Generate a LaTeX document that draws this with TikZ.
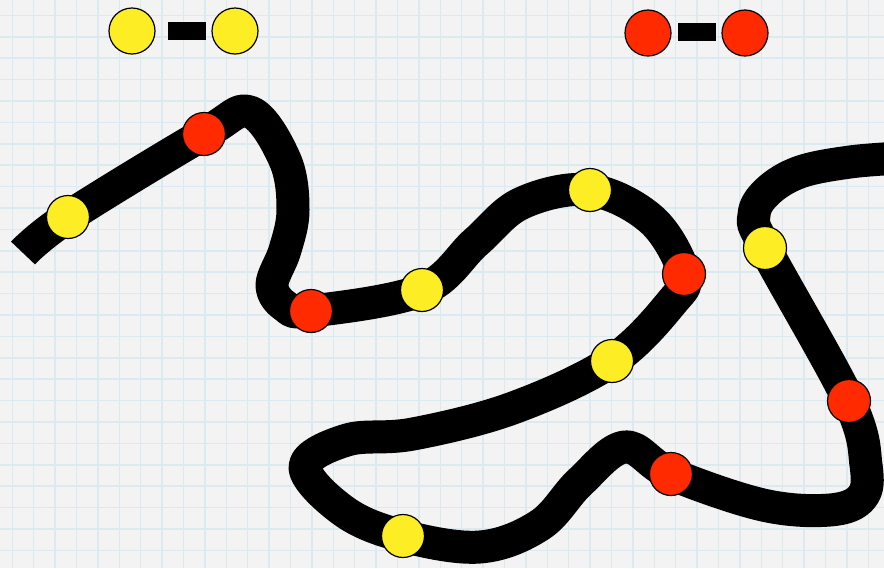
\documentclass[tikz,border=0pt]{standalone}
\usepackage{tikz}

\definecolor{paper}{RGB}{243,243,243}
\definecolor{gridblue}{RGB}{219,234,241}
\definecolor{beadyellow}{RGB}{252,237,36}
\definecolor{beadred}{RGB}{255,42,0}

\tikzset{
  bead/.style={circle,draw=black,line width=1.2pt,inner sep=0pt,minimum size=43pt},
  yellowbead/.style={bead,fill=beadyellow},
  redbead/.style={bead,fill=beadred},
  keybead/.style={minimum size=46pt},
  keybar/.style={rectangle,fill=black,inner sep=0pt,minimum width=38pt,minimum height=18pt},
  strand/.style={line width=33pt,line join=round,black}
}

\begin{document}
\begin{tikzpicture}[x=1pt,y=-1pt]
\useasboundingbox (0,0) rectangle (884,568);
\clip (0,0) rectangle (884,568);
% paper with grid
\fill[paper] (0,0) rectangle (884,568);
\foreach \i in {0,...,41}
  \draw[gridblue,line width=1.5pt] (12.3+21.4*\i,0) -- (12.3+21.4*\i,568);
\foreach \j in {0,...,26}
  \draw[gridblue,line width=1.5pt] (0,15.4+21.4*\j) -- (884,15.4+21.4*\j);
% bead positions
\coordinate (y1) at (68,217);
\coordinate (r1) at (204,134);
\coordinate (r2) at (311,311);
\coordinate (y2) at (422,290);
\coordinate (y3) at (590,190);
\coordinate (r3) at (684,274);
\coordinate (y4) at (612,361);
\coordinate (y5) at (403,536);
\coordinate (r4) at (671,474);
\coordinate (r5) at (849,401);
\coordinate (y6) at (765,248);
% the strand
\draw[strand] plot[smooth,tension=0.6] coordinates {
  (23,253) (y1) (r1) (250,112) (285,160) (293,210) (285,250) (272,285)
  (285,306) (r2) (y2) (476,242) (522,203) (y3) (652,220) (r3) (672,302)
  (y4) (513,408) (413,434) (347,440) (305,467) (345,512) (y5) (480,547)
  (540,525) (580,482) (625,447) (r4) (763,505) (830,510) (862,497)
  (866,465) (r5) (y6) (754,215) (768,191) (800,172) (850,162) (900,158)};
% beads on the strand
\foreach \b in {y1,y2,y3,y4,y5,y6}
  \node[yellowbead] (\b bead) at (\b) {};
\foreach \b in {r1,r2,r3,r4,r5}
  \node[redbead] (\b bead) at (\b) {};
% key: yellow pair
\node[yellowbead,keybead] (ykeya) at (132,31) {};
\node[yellowbead,keybead] (ykeyb) at (235,31) {};
\node[keybar] (ykeybar) at (187,31) {};
% key: red pair
\node[redbead,keybead] (rkeya) at (648,33) {};
\node[redbead,keybead] (rkeyb) at (745,33) {};
\node[keybar] (rkeybar) at (696.5,31.5) {};
\end{tikzpicture}
\end{document}
